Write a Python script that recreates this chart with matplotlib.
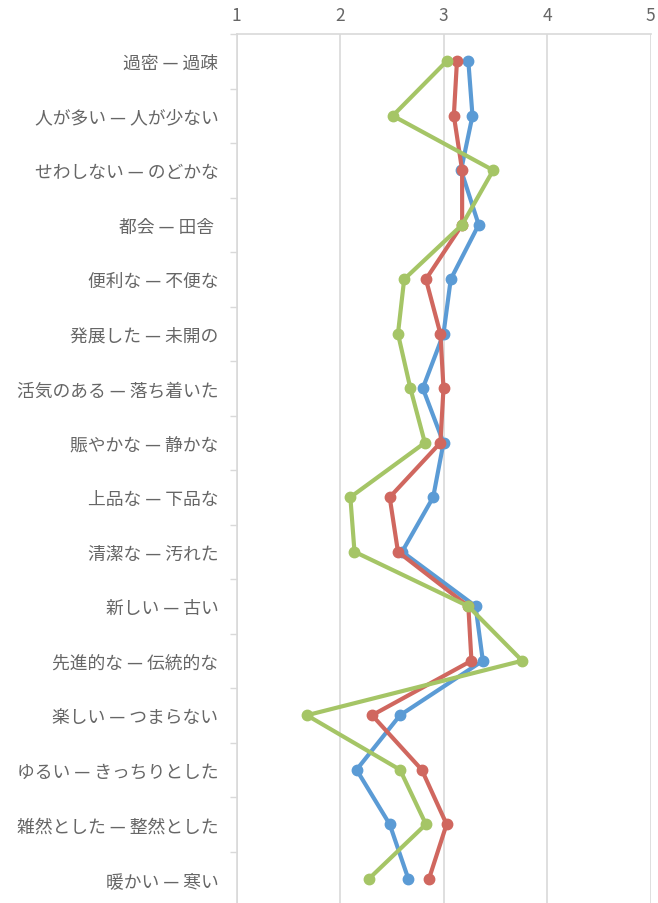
import numpy as np
import matplotlib
matplotlib.use('Agg')
import matplotlib.pyplot as plt

plt.rcParams['font.family'] = ['Noto Sans CJK JP', 'DejaVu Sans']

# Пары прилагательных (шкала семантического дифференциала)
labels = [
    '過密 — 過疎',
    '人が多い — 人が少ない',
    'せわしない — のどかな',
    '都会 — 田舎 ',
    '便利な — 不便な',
    '発展した — 未開の',
    '活気のある — 落ち着いた',
    '賑やかな — 静かな',
    '上品な — 下品な',
    '清潔な — 汚れた',
    '新しい — 古い',
    '先進的な — 伝統的な',
    '楽しい — つまらない',
    'ゆるい — きっちりとした',
    '雑然とした — 整然とした',
    '暖かい — 寒い',
]

# Значения трёх серий
blue = [3.24, 3.28, 3.17, 3.34, 3.07, 3.00, 2.80, 3.00, 2.90, 2.60, 3.31, 3.38, 2.58, 2.16, 2.48, 2.66]
red = [3.13, 3.10, 3.18, 3.18, 2.83, 2.97, 3.00, 2.97, 2.48, 2.56, 3.24, 3.27, 2.31, 2.79, 3.03, 2.86]
green = [3.03, 2.51, 3.48, 3.18, 2.62, 2.56, 2.68, 2.82, 2.10, 2.14, 3.24, 3.76, 1.68, 2.58, 2.83, 2.28]

x_ticks = [1, 2, 3, 4, 5]

grid_color = '#D9D9D9'
text_color = '#666666'

fig = plt.figure(figsize=(6.58, 9.04), dpi=100)
ax = fig.add_axes([236.5 / 658, 1 - 907 / 904, (650.5 - 236.5) / 658, 872 / 904])

pos = np.arange(len(labels))
for vals, color in [(blue, '#5B9BD5'), (red, '#D0675F'), (green, '#A5C566')]:
    ax.plot(vals, pos, color=color, linewidth=3, marker='o', markersize=7.5,
            solid_joinstyle='round', zorder=3)

ax.set_xlim(1, 5)
ax.set_ylim(len(labels) - 0.5, -0.5)

ax.xaxis.tick_top()
ax.set_xticks(x_ticks)
ax.set_xticklabels([str(t) for t in x_ticks])
ax.tick_params(axis='x', length=0, pad=7, labelsize=12.5, labelcolor=text_color)
ax.grid(axis='x', color=grid_color, linewidth=1.2, zorder=0)

ax.set_yticks(pos)
ax.set_yticklabels(labels)
ax.set_yticks(np.arange(len(labels) + 1) - 0.5, minor=True)
ax.tick_params(axis='y', which='major', length=0, pad=13, labelsize=12.8, labelcolor=text_color)
ax.tick_params(axis='y', which='minor', length=5, width=1, color=grid_color, direction='out')

for side in ['right', 'bottom']:
    ax.spines[side].set_visible(False)
for side in ['left', 'top']:
    ax.spines[side].set_color(grid_color)
    ax.spines[side].set_linewidth(1.2)

fig.savefig('out.png', dpi=100)
